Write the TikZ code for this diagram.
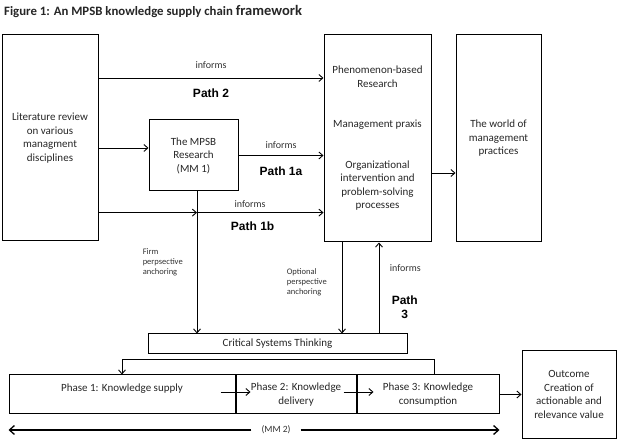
\documentclass[tikz,border=0pt]{standalone}
\usepackage{fontspec}
\setmainfont{Carlito}
\newfontfamily\pathfont{Liberation Sans}
\usetikzlibrary{positioning, arrows.meta, calc}

\begin{document}
\begin{tikzpicture}[
  x=1pt, y=1pt,
  >={Straight Barb[length=4pt,width=7pt]},
  % --- Styles ---
  blk/.style={
    rectangle, draw, line width=1pt, align=center, inner sep=2pt,
    font=\fontsize{11}{13.5}\selectfont, text=black!85},
  arr/.style={->, line width=0.9pt},
  inf/.style={font=\fontsize{10}{12}\selectfont, text=black!80},
  pth/.style={font=\pathfont\bfseries\fontsize{12}{14}\selectfont, align=center},
  note/.style={font=\fontsize{8.5}{10}\selectfont, align=left, text=black!80},
]
\useasboundingbox (0,0) rectangle (629,444);

% === TITLE ===
\node[anchor=west, inner sep=0pt, font=\bfseries\fontsize{12.8}{14}\selectfont, text=black!85]
  (title) at (4,432) {Figure 1: An MPSB knowledge supply chain
  {\fontsize{14.5}{14}\selectfont framework}};

% === NODES ===
% 1. Sources and research
\node[blk, minimum width=96pt, minimum height=206pt] at (50,306) (lit)
  {Literature review\\on various\\managment\\disciplines};
\node[blk, minimum width=89pt, minimum height=71pt] at (193.5,288.5) (mpsb)
  {The MPSB\\Research\\(MM 1)};
% 2. Research/praxis and practice
\node[blk, minimum width=107pt, minimum height=207pt] at (377.5,305.5) (praxis)
  {Phenomenon-based\\Research\\[27pt]Management praxis\\[27pt]%
   Organizational\\intervention and\\problem-solving\\processes};
\node[blk, minimum width=85pt, minimum height=207pt, right=24pt of praxis] (world)
  {The world of\\management\\practices};
% 3. Critical systems thinking
\node[blk, minimum width=259pt, minimum height=20pt] at (277.5,100) (cst)
  {Critical Systems Thinking};
% 4. Phases
\node[blk, minimum width=226pt, minimum height=39pt] at (122,49.5) (ph1)
  {Phase 1: Knowledge supply\\\mbox{}};
\node[blk, minimum width=120pt, minimum height=39pt, right=0pt of ph1] (ph2)
  {Phase 2: Knowledge\\delivery};
\node[blk, minimum width=142pt, minimum height=39pt, right=0pt of ph2] (ph3)
  {Phase 3: Knowledge\\consumption};
\node[blk, minimum width=94pt, minimum height=88pt, right=22pt of ph3] (out)
  {Outcome\\Creation of\\actionable and\\relevance value};
\node[font=\fontsize{9.5}{10}\selectfont, text=black!80, inner xsep=10pt] at (276,14) (mm2)
  {(MM 2)};

% === ARROWS ===
% Path 2
\draw[arr] ([yshift=60pt]lit.east) --
  node[inf, above=5.5pt] {informs}
  node[pth, below=7pt] {Path 2} ([yshift=60.5pt]praxis.west);
% Path 1a
\coordinate (m1) at ([yshift=7.5pt]mpsb.west);
\draw[arr] (lit.east |- m1) -- (m1);
\draw[arr] (mpsb.east) --
  node[inf, above=3.5pt] {informs}
  node[pth, below=8pt] {Path 1a} (praxis.west |- mpsb.east);
% Path 1b
\coordinate (j) at (197,231.4);
\draw[arr] (lit.east |- j) -- (j);
\draw[arr] (j) --
  node[inf, above=1pt, pos=0.42] {informs}
  node[pth, below=5.5pt, pos=0.44] {Path 1b} (praxis.west |- j);
% Anchoring on critical systems thinking
\draw[arr] (mpsb.south -| j) -- (j |- cst.north)
  node[note, pos=0.5, left=10.5pt] {Firm\\perpsective\\anchoring};
\coordinate (o) at ([xshift=-35.5pt]praxis.south);
\draw[arr] (o) -- (o |- cst.north)
  node[note, pos=0.44, left=11.5pt] {Optional\\perspective\\anchoring};
% Path 3
\coordinate (p3) at ([xshift=1.5pt]praxis.south);
\draw[arr] (p3 |- cst.north) --
  node[inf, pos=0.72, right=7pt] {informs}
  node[pth, pos=0.29, right=9pt] {Path\\3} (p3);
% Praxis to practice
\draw[arr] ([yshift=-34.5pt]praxis.east) -- ([yshift=-34.5pt]world.west);
% Feedback from phase 3 to phase 1
\draw[arr] ([xshift=6pt]ph3.north) -- ++(0,15) -| (ph1.north);
% Phase flow
\draw[arr] ([shift={(-15pt,2.5pt)}]ph1.east) -- ([shift={(15pt,2.5pt)}]ph2.west);
\draw[arr] ([shift={(-13pt,2.5pt)}]ph2.east) -- ([shift={(17pt,2.5pt)}]ph3.west);
\draw[arr] (ph3.east) -- (out.west);
% MM 2 span
\draw[arr, line width=1.3pt, >={Straight Barb[length=5pt,width=9pt]}]
  (mm2.west) -- (ph1.south west |- mm2.west);
\draw[arr, line width=1.3pt, >={Straight Barb[length=5pt,width=9pt]}]
  (mm2.east) -- (ph3.south east |- mm2.east);
\end{tikzpicture}
\end{document}
